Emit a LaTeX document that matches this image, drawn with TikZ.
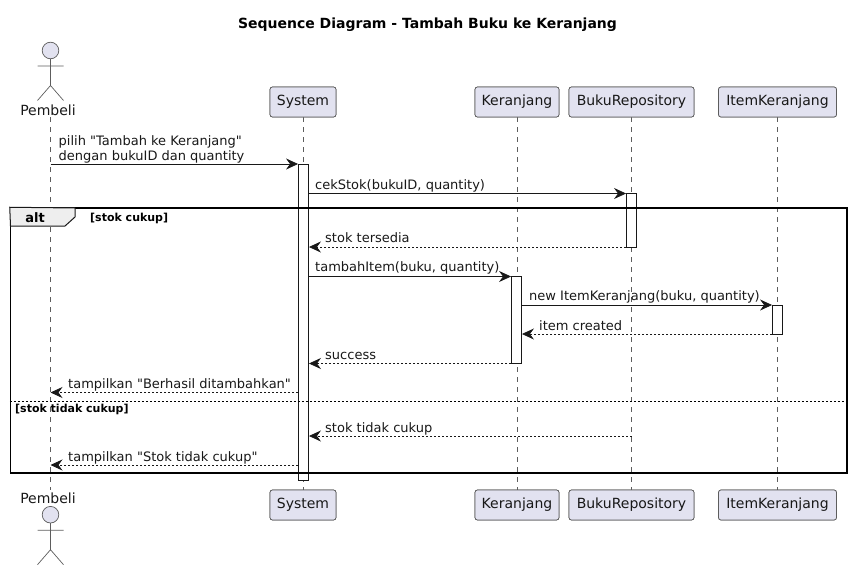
\documentclass[tikz,border=0pt]{standalone}
\usepackage{fontspec}
\setmainfont[Ligatures=TeXOff]{DejaVu Sans}
\usetikzlibrary{arrows.meta}
\definecolor{partfill}{HTML}{E2E2F0}
\definecolor{partline}{HTML}{181818}
\definecolor{tabfill}{HTML}{EEEEEE}
\tikzset{>={Stealth[length=12pt,width=11pt,inset=4pt]}}
\tikzset{
    part/.style={draw=partline!70, fill=partfill, rounded corners=2.5pt, line width=0.7pt, minimum height=30pt, inner sep=0pt, font=\fontsize{14}{15}\selectfont, text=partline},
    actorname/.style={inner sep=0pt, text height=10pt, text depth=0pt, font=\fontsize{14}{15}\selectfont, text=partline},
    lifeline/.style={draw=partline!70, line width=0.6pt, dash pattern=on 5pt off 5pt},
    actbar/.style={draw=partline, fill=white, line width=0.9pt, minimum width=10pt, inner sep=0pt},
    msg/.style={->, draw=partline, line width=0.8pt},
    ret/.style={->, draw=partline, line width=0.8pt, dash pattern=on 2pt off 2pt},
    msgtext/.style={anchor=base west, inner sep=0pt, font=\fontsize{13}{14.5}\selectfont, text=partline, align=left},
    guard/.style={anchor=base west, inner sep=0pt, font=\fontsize{11}{13}\selectfont\bfseries},
    pics/actor/.style={code={
        \draw[draw=partline!70, fill=partfill, line width=0.7pt] (0,0) circle (8.3pt);
        \draw[draw=partline!70, line width=0.7pt] (0,8.3) -- (0,35) (-13,15.5) -- (13,15.5) (-13,50) -- (0,35) -- (13,50);
    }}
}
\begin{document}
\begin{tikzpicture}[x=1pt, y=-1pt]
    \useasboundingbox (0,0) rectangle (852,570);
    % participants, top row and bottom row
    \node[inner sep=0pt, anchor=base, font=\fontsize{14}{15}\selectfont\bfseries] (title) at (427.5,28) {Sequence Diagram - Tambah Buku ke Keranjang};
    \pic at (50.5,50.5) {actor};
    \node[actorname] (PembeliT) at (48,110) {Pembeli};
    \node[part, minimum width=66pt] (SystemT) at (303,102) {System};
    \node[part, minimum width=84pt] (KeranjangT) at (517,102) {Keranjang};
    \node[part, minimum width=125pt] (RepoT) at (631.5,102) {BukuRepository};
    \node[part, minimum width=118pt] (ItemT) at (777.5,102) {ItemKeranjang};
    \node[actorname] (PembeliB) at (48,498) {Pembeli};
    \pic at (50.5,514.7) {actor};
    \node[part, minimum width=66pt] (SystemB) at (303,505) {System};
    \node[part, minimum width=84pt] (KeranjangB) at (517,505) {Keranjang};
    \node[part, minimum width=125pt] (RepoB) at (631.5,505) {BukuRepository};
    \node[part, minimum width=118pt] (ItemB) at (777.5,505) {ItemKeranjang};
    \coordinate (PembeliL) at (50.5,117);
    \coordinate (PembeliE) at (50.5,490);
    % lifelines
    \draw[lifeline] (PembeliL) -- (PembeliE);
    \draw[lifeline] (SystemT) -- (SystemB);
    \draw[lifeline] (KeranjangT) -- (KeranjangB);
    \draw[lifeline] (RepoT) -- (RepoB);
    \draw[lifeline] (ItemT) -- (ItemB);
    % redraw the boxes over the lifelines
    \node[part, minimum width=66pt] at (SystemT) {System};
    \node[part, minimum width=84pt] at (KeranjangT) {Keranjang};
    \node[part, minimum width=125pt] at (RepoT) {BukuRepository};
    \node[part, minimum width=118pt] at (ItemT) {ItemKeranjang};
    \node[part, minimum width=66pt] at (SystemB) {System};
    \node[part, minimum width=84pt] at (KeranjangB) {Keranjang};
    \node[part, minimum width=125pt] at (RepoB) {BukuRepository};
    \node[part, minimum width=118pt] at (ItemB) {ItemKeranjang};
    % activation bars
    \node[actbar, minimum height=316pt] (SystemBar) at (303.5,322) {};
    \node[actbar, minimum height=53.5pt] (RepoBar) at (631.5,220.25) {};
    \node[actbar, minimum height=87pt] (KeranjangBar) at (516.5,320) {};
    \node[actbar, minimum height=29pt] (ItemBar) at (777.5,319.5) {};
    % alt frame
    \node[draw=black, line width=1.5pt, minimum width=836.5pt, minimum height=265pt, inner sep=0pt] (altframe) at (428.75,340.5) {};
    \draw[draw=partline, fill=tabfill, line width=1pt] (altframe.north west) -- (75,208) -- (75,217) -- (65,226) -- (10.5,226) -- cycle;
    \node[inner sep=0pt, anchor=base, font=\fontsize{13}{15}\selectfont\bfseries] (alttext) at (35,222) {alt};
    \node[guard] (guardA) at (90,221) {[stok cukup]};
    \coordinate (elseL) at (altframe.west |- 0,401.5);
    \coordinate (elseR) at (altframe.east |- 0,401.5);
    \draw[draw=black, line width=0.8pt, dash pattern=on 2pt off 2pt] (elseL) -- (elseR);
    \node[guard] (guardB) at (15,412.5) {[stok tidak cukup]};
    % messages
    \coordinate (m1) at (0,164);
    \coordinate (m2) at (0,193.5);
    \coordinate (m3) at (0,247);
    \coordinate (m4) at (0,276.5);
    \coordinate (m5) at (0,305);
    \coordinate (m6) at (0,334);
    \coordinate (m7) at (0,363.5);
    \coordinate (m8) at (0,392.5);
    \coordinate (m9) at (0,436);
    \coordinate (m10) at (0,465);
    \draw[msg] (PembeliL |- m1) -- (SystemBar.west |- m1);
    \node[msgtext] (t1) at (58.5,145.5) {pilih "Tambah ke Keranjang"};
    \node[msgtext] (t1b) at (58.5,160) {dengan bukuID dan quantity};
    \draw[msg] (SystemBar.east |- m2) -- (RepoBar.west |- m2);
    \node[msgtext] (t2) at (315,189) {cekStok(bukuID, quantity)};
    \draw[ret] (RepoBar.west |- m3) -- (SystemBar.east |- m3);
    \node[msgtext] (t3) at (325,242) {stok tersedia};
    \draw[msg] (SystemBar.east |- m4) -- (KeranjangBar.west |- m4);
    \node[msgtext] (t4) at (315,271.5) {tambahItem(buku, quantity)};
    \draw[msg] (KeranjangBar.east |- m5) -- (ItemBar.west |- m5);
    \node[msgtext] (t5) at (529,300) {new ItemKeranjang(buku, quantity)};
    \draw[ret] (ItemBar.west |- m6) -- (KeranjangBar.east |- m6);
    \node[msgtext] (t6) at (539,330) {item created};
    \draw[ret] (KeranjangBar.west |- m7) -- (SystemBar.east |- m7);
    \node[msgtext] (t7) at (325,359) {success};
    \draw[ret] (SystemBar.west |- m8) -- (PembeliL |- m8);
    \node[msgtext] (t8) at (68,388.5) {tampilkan "Berhasil ditambahkan"};
    \draw[ret] (RepoT |- m9) -- (SystemBar.east |- m9);
    \node[msgtext] (t9) at (325,432) {stok tidak cukup};
    \draw[ret] (SystemBar.west |- m10) -- (PembeliL |- m10);
    \node[msgtext] (t10) at (68,461) {tampilkan "Stok tidak cukup"};
\end{tikzpicture}
\end{document}
